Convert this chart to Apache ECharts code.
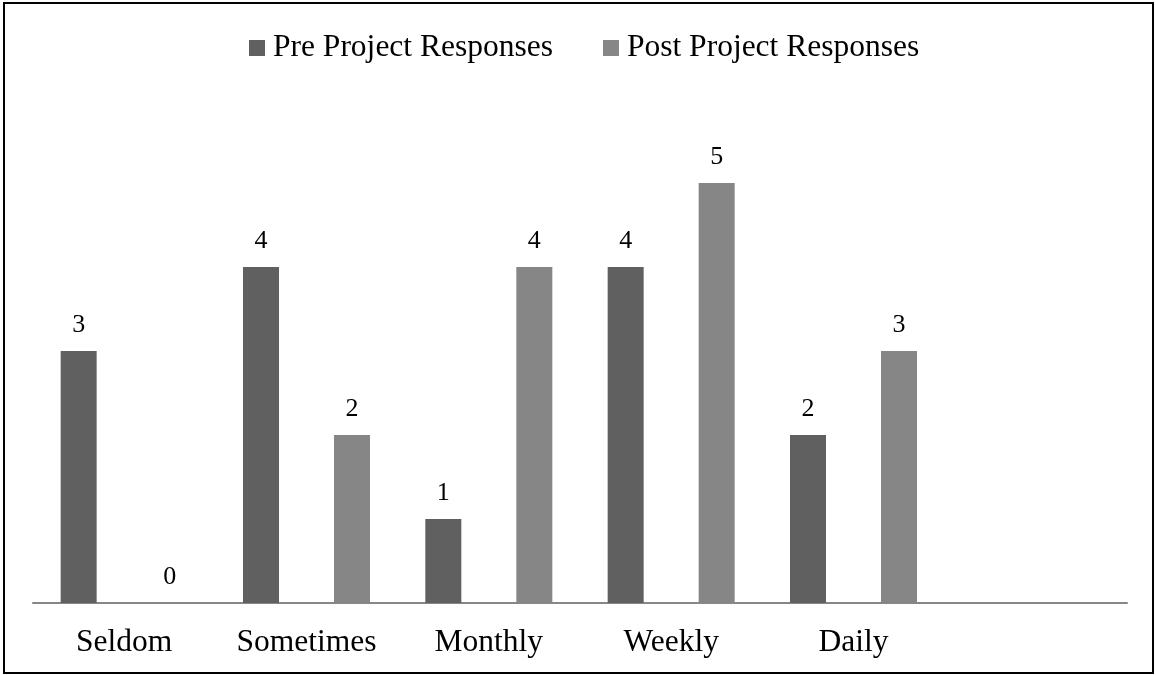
<!DOCTYPE html>
<html>
<head>
<meta charset="utf-8">
<script src="https://cdn.jsdelivr.net/npm/echarts@6/dist/echarts.min.js"></script>
<style>
html,body{margin:0;padding:0;background:#fff;}
#chart{width:1156px;height:675px;}
</style>
</head>
<body>
<div id="chart"></div>
<script>
var categories = ['Seldom', 'Sometimes', 'Monthly', 'Weekly', 'Daily', ''];
var preValues = [3, 4, 1, 4, 2, null];
var postValues = [0, 2, 4, 5, 3, null];
var seriesNames = ['Pre Project Responses', 'Post Project Responses'];

var FONT = '"Liberation Serif", "Times New Roman", serif';
var chart = echarts.init(document.getElementById('chart'), null, {renderer: 'canvas'});
var labelStyle = {
  show: true,
  position: 'top',
  distance: 13,
  fontFamily: FONT,
  fontSize: 26,
  color: '#000'
};
chart.setOption({
  backgroundColor: '#fff',
  animation: false,
  legend: {
    left: 244,
    top: 27,
    itemWidth: 16,
    itemHeight: 16,
    itemGap: 50,
    icon: 'rect',
    textStyle: {fontFamily: FONT, fontSize: 31.5, color: '#000', padding: [0, 0, 0, 3]},
    data: seriesNames
  },
  grid: {left: 33, right: 29, top: 99, bottom: 72, containLabel: false},
  xAxis: {
    type: 'category',
    data: categories,
    axisLine: {show: true, lineStyle: {color: '#878787', width: 2}},
    axisTick: {show: false},
    axisLabel: {fontFamily: FONT, fontSize: 31.5, color: '#000', margin: 24, interval: 0}
  },
  yAxis: {
    type: 'value',
    min: 0,
    max: 6,
    interval: 1,
    show: false,
    splitLine: {show: false}
  },
  series: [
    {
      name: seriesNames[0],
      type: 'bar',
      data: preValues,
      barWidth: 36,
      barGap: '152.8%',
      itemStyle: {color: '#606060'},
      label: labelStyle
    },
    {
      name: seriesNames[1],
      type: 'bar',
      data: postValues,
      barWidth: 36,
      itemStyle: {color: '#868686'},
      label: labelStyle
    }
  ],
  graphic: [{
    type: 'rect',
    shape: {x: 4, y: 3, width: 1149, height: 670},
    style: {fill: 'none', stroke: '#000', lineWidth: 2},
    silent: true,
    z: 100
  }]
});
</script>
</body>
</html>
